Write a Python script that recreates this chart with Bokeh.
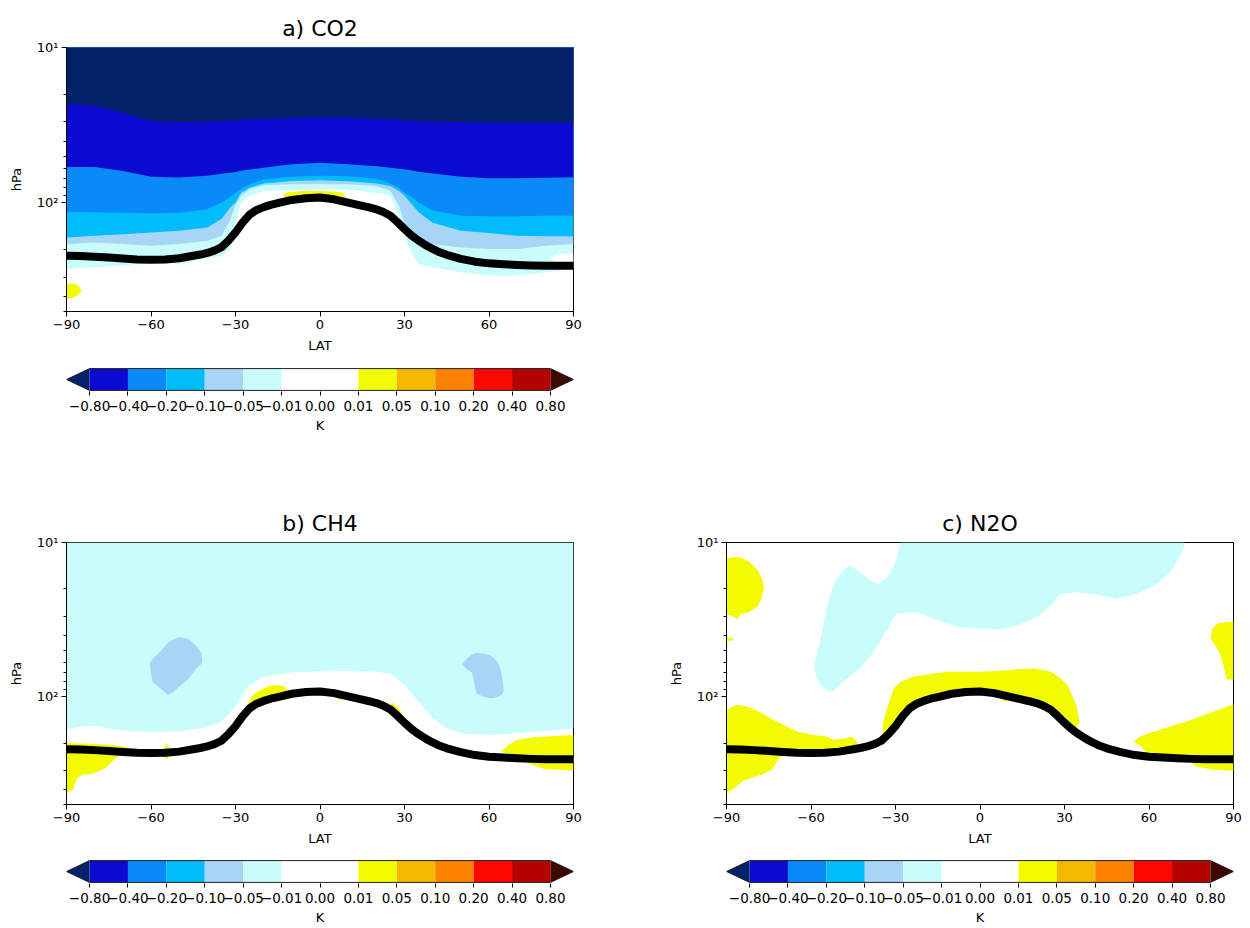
from bokeh.plotting import figure
from bokeh.layouts import column, row
from bokeh.models import Range1d, FixedTicker, Spacer
from bokeh.embed import file_html
from bokeh.resources import INLINE

FONT = "DejaVu Sans"

# ---------------- colour scale ----------------
LEVEL_LABELS = ["−0.80", "−0.40", "−0.20", "−0.10", "−0.05", "−0.01", "0.00",
                "0.01", "0.05", "0.10", "0.20", "0.40", "0.80"]
BAND_COLORS = ["#0b0ad0", "#0a8af9", "#00bcfb", "#a8d5f6", "#c8fdfc", "#ffffff",
               "#ffffff", "#f3fb00", "#f4b800", "#fc8200", "#fc0800", "#b30200"]
UNDER_COLOR = "#03226a"
OVER_COLOR = "#3e0800"
NAVY, BLUE, MIDBLUE, CYAN, LIGHTBLUE, PALECYAN = (UNDER_COLOR, BAND_COLORS[0], BAND_COLORS[1],
                                                 BAND_COLORS[2], BAND_COLORS[3], BAND_COLORS[4])
YELLOW = BAND_COLORS[7]

# ---------------- axes ----------------
LAT_TICKS = [-90, -60, -30, 0, 30, 60, 90]
LAT_LABELS = ["−90", "−60", "−30", "0", "30", "60", "90"]
P_TICKS = [10, 100]
P_LABELS = ["10¹", "10²"]
P_MINOR = [20, 30, 40, 50, 60, 70, 80, 90, 200, 300, 400, 500]
P_TOP, P_BOTTOM = 10, 500

# ---------------- tropopause (hPa) ----------------
TROP_LAT = [-90, -85, -80, -75, -70, -65, -60, -55, -50, -45, -42.5, -40, -37.5, -35, -32.5,
            -30, -27.5, -25, -22.5, -20, -17.5, -15, -10, -5, 0, 5, 10, 15, 17.5, 20, 22.5,
            25, 27.5, 30, 32.5, 35, 37.5, 40, 42.5, 45, 50, 55, 60, 65, 70, 75, 80, 85, 90]
TROP_P = [219, 220, 222, 225, 228, 231, 232, 231, 227, 219, 215, 210, 203, 193, 175,
          155, 134, 119, 111, 106.5, 103, 100.5, 95.7, 93.3, 92.4, 94.8, 99.5, 104.5, 107, 110,
          114.5, 121, 133, 147.5, 162, 175, 187, 198, 208, 216, 229, 239, 245, 248, 251, 253,
          254, 254, 254]

# ---------------- a) CO2 : contour boundaries (hPa) ----------------
A_LAT = [-90, -80, -70, -60, -50, -40, -35, -32, -30, -28, -25, -20, -10, 0, 10, 20, 25, 28,
         30, 33, 35, 40, 50, 60, 70, 80, 90]
A_M080 = [23, 23.7, 26.4, 29.8, 30.2, 30, 29.7, 29.5, 29.4, 29.2, 29, 28.8, 28.4, 28.1, 28.2,
          28.8, 29, 29.3, 29.4, 29.7, 29.8, 30, 30.2, 30.5, 30.5, 30.5, 30.5]
A_M040 = [58.8, 58.8, 62.4, 68, 68.6, 67, 65, 64, 63.2, 62, 61, 59.4, 56.5, 55.2, 56.5, 58,
          59.5, 60.2, 60.8, 62, 63, 64.6, 67.8, 69.5, 69.5, 69, 68.5]
A_M020 = [114, 114.8, 115.8, 116.4, 115.8, 110, 99.5, 92, 85.9, 81, 75.9, 70.5, 68, 67, 67.5,
          69.8, 74.9, 80, 85.9, 93, 99.5, 112, 121, 122, 122, 121, 121]
A_M010 = [167, 163, 159, 155, 151, 144, 127, 108, 99.5, 86, 79.8, 74.9, 72.3, 71.5, 72.5,
          74.9, 77.8, 84, 90, 104, 115, 134, 151, 156, 163, 164, 164]
A_M005 = [184, 180, 184, 189, 184, 175, 163, 130, 104, 90, 81.7, 77, 75.9, 75.9, 75.9, 77.8,
          83.8, 104, 134, 158, 171, 184, 194, 198, 198, 189, 184]
A_M001 = [266, 260, 254, 241, 247, 229, 219, 200, 134, 100, 90, 84, 82.6, 82, 82, 85.9, 90,
          121, 163, 219, 247, 260, 280, 294, 294, 280, 266]
A_WHITE_LAT = [81.5, 84, 87, 90]
A_WHITE_TOP = [229, 213, 212, 213]
A_WHITE_BOT = [229, 241, 241, 240]
A_Y1_LAT = [-13, -11, -6, 0, 5, 6.5, 8, 9]
A_Y1_TOP = [88, 85, 84, 84, 84.5, 85, 86, 90]
A_Y1_BOT = [90, 96, 94, 93, 97, 104, 100, 92]
A_Y2_LAT = [-90, -88, -86, -84.8]
A_Y2_TOP = [332, 330, 338, 362]
A_Y2_BOT = [414, 410, 395, 370]

# ---------------- b) CH4 ----------------
B_CYAN_LAT = [-90, -85, -80, -70, -60, -50, -40, -35, -30, -27, -25, -20, -10, 0, 10, 20, 25,
              30, 35, 40, 45, 50, 60, 70, 80, 90]
B_CYAN_BOT = [164, 156, 154, 166, 170, 168, 158, 145, 116, 93, 84, 74.3, 69.7, 68.5, 68.2, 69,
              70.8, 84, 108, 138, 160, 172.5, 177, 172, 166, 160]
B_LB1_LAT = [-60.5, -59.5, -57, -54, -52, -50, -47, -44, -42, -41.8]
B_LB1_TOP = [61, 57, 51.7, 44.7, 42.5, 41, 42, 46.5, 52.5, 59]
B_LB1_BOT = [61, 80, 87.5, 97, 93, 86, 77.6, 66, 61, 59]
B_LB2_LAT = [50.5, 52, 54, 55.5, 58, 60.5, 62.5, 63.7, 64.5, 65.2]
B_LB2_TOP = [61.8, 57, 53, 52, 52.5, 54, 58, 62.6, 72, 88]
B_LB2_BOT = [61.8, 66, 70, 95, 100, 102.5, 101, 99, 98, 92]
B_Y1_LAT = [-90, -87.6, -86.3, -84, -81, -76, -73, -70, -68, -65]
B_Y1_TOP = [200, 200, 201, 201, 202, 204, 206, 210, 214, 224]
B_Y1_BOT = [421, 400, 336, 320, 317, 290, 253, 236, 228, 226]
B_Y2_LAT = [-56, -54.5, -53]
B_Y2_TOP = [225, 200, 225]
B_Y2_BOT = [235, 255, 235]
B_Y3_LAT = [-28.5, -26, -24, -21, -18, -15, -12.5, -11]
B_Y3_TOP = [150, 115, 98, 90, 85, 84, 86, 95]
B_Y3_BOT = [152, 130, 118, 110, 105, 101, 98, 97]
B_Y4_LAT = [24, 26, 28, 29.5]
B_Y4_TOP = [114, 110, 120, 133]
B_Y4_BOT = [118, 126, 137, 142]
B_Y5_LAT = [5.5, 7, 8.5]
B_Y5_TOP = [100, 97, 101]
B_Y5_BOT = [101, 105, 102]
B_Y6_LAT = [64.4, 67, 70, 75, 80, 85, 90]
B_Y6_TOP = [226, 205, 191, 184, 181, 179, 177]
B_Y6_BOT = [226, 240, 248, 275, 295, 298, 302]

# ---------------- c) N2O ----------------
C_CYAN_LAT = [-59, -58, -56.6, -54.3, -52.5, -51.3, -48.3, -46, -42.4, -38.9, -35.9, -33, -30,
              -28.2, -22.3, -16.4, -8.1, 0, 7.4, 13.3, 20.3, 25, 28.6, 34.5, 40.4, 48.6, 55.7,
              62.8, 67.6, 71.1, 72.9]
C_CYAN_TOP = [62.5, 54, 42, 25.6, 20, 17.7, 14.9, 14.1, 15.6, 17.7, 18.6, 16.8, 13.5, 10, 10,
              10, 10, 10, 10, 10, 10, 10, 10, 10, 10, 10, 10, 10, 10, 10, 10]
C_CYAN_BOT = [62.5, 76, 84, 90.6, 92.8, 89, 79, 73, 64.7, 55, 45, 37, 29.5, 28.8, 28.3, 31.3,
              35.3, 36.2, 36.6, 34.5, 30.5, 25.6, 21.6, 21, 21.6, 23.2, 21.6, 18.6, 15.6, 12.2,
              10]
C_Y1_LAT = [-90, -88, -86.2, -85, -82, -79, -77.5, -76.7]
C_Y1_TOP = [12.6, 12.5, 12.4, 12.5, 13.3, 15, 17, 19.5]
C_Y1_BOT = [29.2, 30, 31.5, 29.2, 28.3, 26, 23, 19.5]
C_Y2_LAT = [-90, -88.8, -87.6]
C_Y2_TOP = [41.5, 41.5, 42]
C_Y2_BOT = [43.5, 43.5, 43]
C_Y3_LAT = [-90, -86.8, -84.4, -81.5, -77.3, -73.8, -71, -68, -64.9, -59, -54.3, -52, -47.2,
            -46, -44.2, -43.5]
C_Y3_TOP = [122, 113, 114, 118, 128, 140, 148, 158, 168, 177, 181, 190, 186, 181, 190, 200]
C_Y3_BOT = [421, 390, 353, 336, 320, 297, 245, 238, 235, 232, 245, 228, 220, 216, 208, 200]
C_Y4_LAT = [-34.5, -33, -30.6, -28.2, -23.5, -16.4, -11.7, 0, 6, 8.5, 11, 13.3, 19.3, 25.2,
            28.6, 31, 32.2, 34.5, 35.3]
C_Y4_TOP = [150, 119, 88, 80, 74, 70.7, 69, 69, 68, 67.5, 67, 66.4, 65.7, 69, 76, 84, 93, 119,
            145]
C_Y4_BOT = [185, 178, 160, 138, 115, 102, 97, 93, 97, 108, 104, 103, 109, 122, 140, 165, 162,
            158, 145]
C_Y5_LAT = [81.8, 82.4, 84.2, 85.4, 86.6, 87.5, 90]
C_Y5_TOP = [42, 36.2, 33.6, 33.2, 33, 32.8, 32.5]
C_Y5_BOT = [42, 43.5, 48.7, 53.8, 65.6, 77, 78]
C_Y6_LAT = [54.5, 56.8, 60, 63.9, 68, 73.4, 77, 82.8, 90]
C_Y6_TOP = [196, 181, 172, 164, 155, 145, 137, 125, 112]
C_Y6_BOT = [196, 208, 240, 248, 250, 256, 285, 298, 302]

# ---------------- layout constants ----------------
FRAME_W, FRAME_H = 507, 264
LEFT_BORDER = 66
TXT = "13px"
CBAR_TXT = "13.5px"


def style_text(ax, size=TXT):
    ax.major_label_text_font = FONT
    ax.major_label_text_font_size = size
    ax.axis_label_text_font = FONT
    ax.axis_label_text_font_size = TXT
    ax.axis_label_text_font_style = "normal"
    ax.major_label_text_color = "black"
    ax.axis_label_text_color = "black"


def make_panel(title, right_border, top_border):
    bottom_border = 45
    p = figure(width=LEFT_BORDER + FRAME_W + right_border,
               height=top_border + FRAME_H + bottom_border,
               x_range=Range1d(-90, 90), y_range=Range1d(P_BOTTOM, P_TOP),
               y_axis_type="log", output_backend="svg", toolbar_location=None,
               min_border_left=LEFT_BORDER, min_border_right=right_border,
               min_border_top=top_border, min_border_bottom=bottom_border)
    p.title.text = title
    p.title.text_font = FONT
    p.title.text_font_size = "22px"
    p.title.text_font_style = "normal"
    p.title.text_color = "black"
    p.title.align = "center"
    p.title.standoff = 13
    p.xgrid.visible = False
    p.ygrid.visible = False
    p.outline_line_color = "black"
    p.outline_line_width = 1
    p.background_fill_color = "white"

    xa = p.xaxis[0]
    xa.ticker = FixedTicker(ticks=LAT_TICKS)
    xa.major_label_overrides = {t: l for t, l in zip(LAT_TICKS, LAT_LABELS)}
    xa.major_tick_out = 5
    xa.major_tick_in = 0
    xa.minor_tick_line_color = None
    xa.major_label_standoff = 3
    xa.axis_label = "LAT"
    xa.axis_label_standoff = 6
    style_text(xa)

    ya = p.yaxis[0]
    ya.ticker = FixedTicker(ticks=P_TICKS, minor_ticks=P_MINOR)
    ya.major_label_overrides = {t: l for t, l in zip(P_TICKS, P_LABELS)}
    ya.major_tick_out = 5
    ya.major_tick_in = 0
    ya.minor_tick_out = 3
    ya.minor_tick_in = 0
    ya.major_label_standoff = 3
    ya.axis_label = "hPa"
    ya.axis_label_standoff = 10
    style_text(ya)
    return p


def area(p, lat, top, bottom, color):
    p.varea(x=lat, y1=top, y2=bottom, fill_color=color)


def tropopause(p):
    p.line(TROP_LAT, TROP_P, line_color="black", line_width=8, line_join="round")


def make_cbar(right_border, top_border, height, label_standoff, k_standoff):
    n = len(BAND_COLORS)
    ext = 0.05 * n
    p = figure(width=LEFT_BORDER + FRAME_W + right_border, height=height,
               x_range=Range1d(-ext, n + ext), y_range=Range1d(-0.05, 1.05),
               output_backend="svg", toolbar_location=None, y_axis_location=None,
               min_border_left=LEFT_BORDER, min_border_right=right_border,
               min_border_top=top_border, min_border_bottom=height - top_border - 24)
    p.xgrid.visible = False
    p.ygrid.visible = False
    p.outline_line_color = None
    idx = list(range(n + 1))
    p.quad(left=idx[:-1], right=idx[1:], bottom=0, top=1, fill_color=BAND_COLORS,
           line_color=None)
    p.patches(xs=[[0, -ext, 0], [n, n + ext, n]], ys=[[0, 0.5, 1], [0, 0.5, 1]],
              fill_color=[UNDER_COLOR, OVER_COLOR], line_color=None)
    p.line([0, -ext, 0, n, n + ext, n, 0], [1, 0.5, 0, 0, 0.5, 1, 1],
           line_color="#222222", line_width=1)
    xa = p.xaxis[0]
    xa.ticker = FixedTicker(ticks=idx)
    xa.major_label_overrides = {i: l for i, l in zip(idx, LEVEL_LABELS)}
    xa.axis_line_color = None
    xa.major_tick_out = 4
    xa.major_tick_in = 0
    xa.minor_tick_line_color = None
    xa.major_label_standoff = label_standoff
    xa.axis_label = "K"
    xa.axis_label_standoff = k_standoff
    style_text(xa, CBAR_TXT)
    return p


# ---------------- panel a ----------------
pa = make_panel("a) CO2", 20, 47)
for bound, col in [(A_M001, PALECYAN), (A_M005, LIGHTBLUE), (A_M010, CYAN),
                   (A_M020, MIDBLUE), (A_M040, BLUE), (A_M080, NAVY)]:
    area(pa, A_LAT, P_TOP, bound, col)
area(pa, A_WHITE_LAT, A_WHITE_TOP, A_WHITE_BOT, "white")
area(pa, A_Y1_LAT, A_Y1_TOP, A_Y1_BOT, YELLOW)
area(pa, A_Y2_LAT, A_Y2_TOP, A_Y2_BOT, YELLOW)
tropopause(pa)

# ---------------- panel b ----------------
pb = make_panel("b) CH4", 20, 38)
area(pb, B_CYAN_LAT, P_TOP, B_CYAN_BOT, PALECYAN)
area(pb, B_LB1_LAT, B_LB1_TOP, B_LB1_BOT, LIGHTBLUE)
area(pb, B_LB2_LAT, B_LB2_TOP, B_LB2_BOT, LIGHTBLUE)
for lat, top, bot in [(B_Y1_LAT, B_Y1_TOP, B_Y1_BOT), (B_Y2_LAT, B_Y2_TOP, B_Y2_BOT),
                      (B_Y3_LAT, B_Y3_TOP, B_Y3_BOT), (B_Y4_LAT, B_Y4_TOP, B_Y4_BOT),
                      (B_Y5_LAT, B_Y5_TOP, B_Y5_BOT), (B_Y6_LAT, B_Y6_TOP, B_Y6_BOT)]:
    area(pb, lat, top, bot, YELLOW)
tropopause(pb)

# ---------------- panel c ----------------
pc = make_panel("c) N2O", 9, 38)
area(pc, C_CYAN_LAT, C_CYAN_TOP, C_CYAN_BOT, PALECYAN)
for lat, top, bot in [(C_Y1_LAT, C_Y1_TOP, C_Y1_BOT), (C_Y2_LAT, C_Y2_TOP, C_Y2_BOT),
                      (C_Y3_LAT, C_Y3_TOP, C_Y3_BOT), (C_Y4_LAT, C_Y4_TOP, C_Y4_BOT),
                      (C_Y5_LAT, C_Y5_TOP, C_Y5_BOT), (C_Y6_LAT, C_Y6_TOP, C_Y6_BOT)]:
    area(pc, lat, top, bot, YELLOW)
tropopause(pc)

# ---------------- colour bars ----------------
cba = make_cbar(20, 11, 146, 5, 4)
cbb = make_cbar(20, 10, 78, 5, 4)
cbc = make_cbar(9, 10, 78, 5, 4)

GAP = 726 - 8 - LEFT_BORDER - (LEFT_BORDER + FRAME_W + 20) + 8
layout = column(
    row(pa),
    row(cba),
    row(pb, Spacer(width=GAP, height=pb.height), pc),
    row(cbb, Spacer(width=GAP, height=78), cbc),
)

open("out.html", "w").write(file_html(layout, INLINE))
